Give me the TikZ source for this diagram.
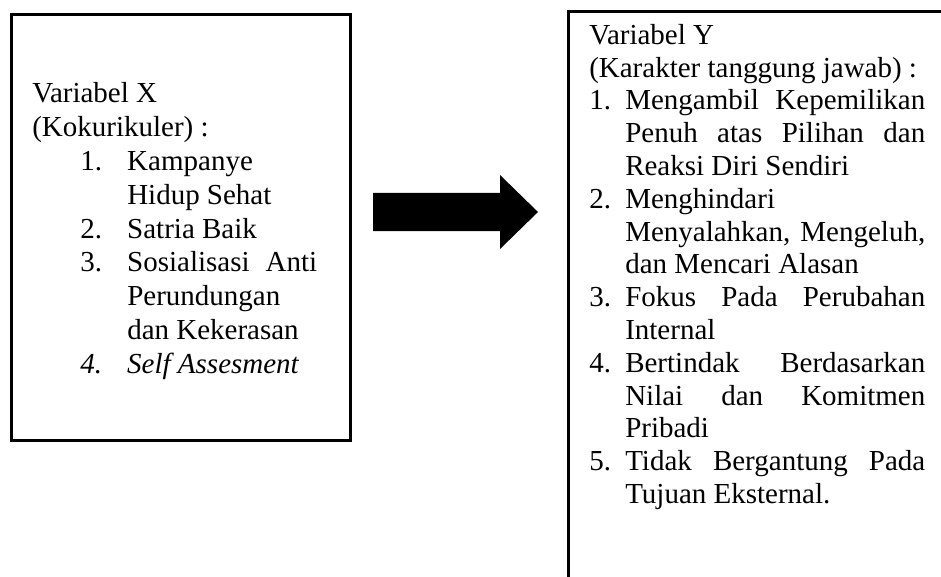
\documentclass[tikz,border=0pt]{standalone}
\usepackage{fontspec}
\setmainfont{Liberation Serif}
\usetikzlibrary{positioning, calc}

\begin{document}
\begin{tikzpicture}[
    x=0.75pt, y=-0.75pt,
    frame/.style={draw, line width=1.9pt, inner sep=0pt, anchor=north west},
    listtext/.style={anchor=north west, inner sep=0pt, font=\fontsize{21.75pt}{24.6pt}\selectfont}
]
    \useasboundingbox (0,0) rectangle (941,577);

    % Variabel X
    \node[frame, minimum width=254.25pt, minimum height=319.5pt] (boxx) at (10,13) {};
    \node[listtext, font=\fontsize{21.75pt}{25.35pt}\selectfont] (xtext) at (32,79) {%
        \begin{tabular}{@{}p{36pt}@{}p{35.25pt}@{}p{142.5pt}@{}}
            \multicolumn{3}{@{}l@{}}{Variabel X}\\
            \multicolumn{3}{@{}l@{}}{(Kokurikuler) :}\\
            & 1. & Kampanye\\
            & & Hidup Sehat\\
            & 2. & Satria Baik\\
            & 3. & Sosialisasi\hfill Anti\\
            & & Perundungan\\
            & & dan Kekerasan\\
            & \itshape 4. & \itshape Self Assesment
        \end{tabular}};

    % Variabel Y
    \node[frame, minimum width=294.75pt, minimum height=442.5pt] (boxy) at (567,10) {};
    \node[listtext] (ytext) at (589,21) {%
        \begin{tabular}{@{}p{27pt}@{}p{225pt}@{}}
            \multicolumn{2}{@{}l@{}}{Variabel Y}\\
            \multicolumn{2}{@{}l@{}}{(Karakter tanggung jawab) :}\\
            1. & Mengambil\hfill Kepemilikan\\
            & Penuh\hfill atas\hfill Pilihan\hfill dan\\
            & Reaksi Diri Sendiri\\
            2. & Menghindari\\
            & Menyalahkan,\hfill Mengeluh,\\
            & dan Mencari Alasan\\
            3. & Fokus\hfill Pada\hfill Perubahan\\
            & Internal\\
            4. & Bertindak\hfill Berdasarkan\\
            & Nilai\hfill dan\hfill Komitmen\\
            & Pribadi\\
            5. & Tidak\hfill Bergantung\hfill Pada\\
            & Tujuan Eksternal.
        \end{tabular}};

    % Arrow
    \coordinate (tail) at (373,212);
    \coordinate (tip) at (538,212);
    \fill (tail) ++(0,-19) -- ++(127,0) -- ++(0,-18) -- (tip)
        -- ($(tip)+(-38,37)$) -- ++(0,-18) -- ($(tail)+(0,19)$) -- cycle;
\end{tikzpicture}
\end{document}
